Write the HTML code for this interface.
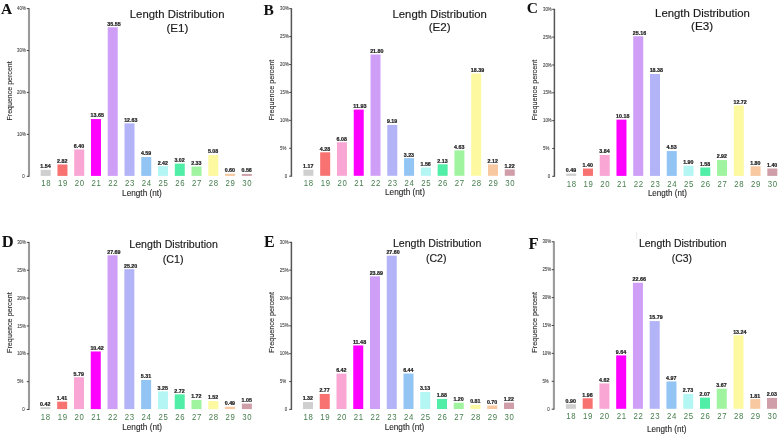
<!DOCTYPE html>
<html><head><meta charset="utf-8"><style>
html,body{margin:0;padding:0;background:#fff;}
body{width:784px;height:440px;overflow:hidden;}
svg{display:block;will-change:transform;}
text{font-family:"Liberation Sans",sans-serif;}
.val{font-size:5.2px;font-weight:bold;fill:#1e1e1e;stroke:#1e1e1e;stroke-width:0.22px;}
.xl{font-size:9.4px;fill:#467e4d;text-anchor:middle;letter-spacing:0.8px;}
.tk{font-size:5.2px;fill:#444;stroke:#444;stroke-width:0.1px;text-anchor:end;}
.let{font-family:"Liberation Serif",serif;font-weight:bold;font-size:15.5px;fill:#111;}
.ttl{fill:#1a1a1a;stroke:#1a1a1a;stroke-width:0.15px;}
.nt{font-size:8.2px;fill:#2a2a2a;stroke:#2a2a2a;stroke-width:0.12px;}
.fp{font-size:7.6px;fill:#2a2a2a;stroke:#2a2a2a;stroke-width:0.12px;}
</style></head><body>
<svg width="784" height="440" viewBox="0 0 784 440">
<rect width="784" height="440" fill="#fff"/>
<rect x="40.7" y="169.84" width="10" height="6.06" fill="#cfcfcf"/>
<text x="40.35" y="168.24" class="val" textLength="10.32" lengthAdjust="spacingAndGlyphs">1.54</text>
<text transform="translate(46.15,186.3) scale(0.83,1)" class="xl">18</text>
<rect x="57.46" y="164.48" width="10" height="11.42" fill="#f87272"/>
<text x="57.11" y="162.88" class="val" textLength="10.32" lengthAdjust="spacingAndGlyphs">2.82</text>
<text transform="translate(62.91,186.3) scale(0.83,1)" class="xl">19</text>
<rect x="74.22" y="149.47" width="10" height="26.43" fill="#f9a6d4"/>
<text x="73.87" y="147.87" class="val" textLength="10.32" lengthAdjust="spacingAndGlyphs">6.40</text>
<text transform="translate(79.67,186.3) scale(0.83,1)" class="xl">20</text>
<rect x="90.98" y="119.07" width="10" height="56.83" fill="#ff00ff"/>
<text x="90.63" y="117.47" class="val" textLength="13.27" lengthAdjust="spacingAndGlyphs">13.65</text>
<text transform="translate(96.43,186.3) scale(0.83,1)" class="xl">21</text>
<rect x="107.74" y="27.26" width="10" height="148.64" fill="#cf9ff8"/>
<text x="107.39" y="25.66" class="val" textLength="13.27" lengthAdjust="spacingAndGlyphs">35.55</text>
<text transform="translate(113.19,186.3) scale(0.83,1)" class="xl">22</text>
<rect x="124.5" y="123.35" width="10" height="52.55" fill="#b3b3f7"/>
<text x="124.15" y="121.75" class="val" textLength="13.27" lengthAdjust="spacingAndGlyphs">12.63</text>
<text transform="translate(129.95,186.3) scale(0.83,1)" class="xl">23</text>
<rect x="141.26" y="157.06" width="10" height="18.84" fill="#92c4f4"/>
<text x="140.91" y="155.46" class="val" textLength="10.32" lengthAdjust="spacingAndGlyphs">4.59</text>
<text transform="translate(146.71,186.3) scale(0.83,1)" class="xl">24</text>
<rect x="158.02" y="166.15" width="10" height="9.75" fill="#b3f6f3"/>
<text x="157.67" y="164.55" class="val" textLength="10.32" lengthAdjust="spacingAndGlyphs">2.42</text>
<text transform="translate(163.47,186.3) scale(0.83,1)" class="xl">25</text>
<rect x="174.78" y="163.64" width="10" height="12.26" fill="#50eea6"/>
<text x="174.43" y="162.04" class="val" textLength="10.32" lengthAdjust="spacingAndGlyphs">3.02</text>
<text transform="translate(180.23,186.3) scale(0.83,1)" class="xl">26</text>
<rect x="191.54" y="166.53" width="10" height="9.37" fill="#a0f4a0"/>
<text x="191.19" y="164.93" class="val" textLength="10.32" lengthAdjust="spacingAndGlyphs">2.33</text>
<text transform="translate(196.99,186.3) scale(0.83,1)" class="xl">27</text>
<rect x="208.3" y="155" width="10" height="20.9" fill="#fdf9a0"/>
<text x="207.95" y="153.4" class="val" textLength="10.32" lengthAdjust="spacingAndGlyphs">5.08</text>
<text transform="translate(213.75,186.3) scale(0.83,1)" class="xl">28</text>
<rect x="225.06" y="173.78" width="10" height="2.12" fill="#f8c8a0"/>
<text x="224.71" y="172.18" class="val" textLength="10.32" lengthAdjust="spacingAndGlyphs">0.60</text>
<text transform="translate(230.51,186.3) scale(0.83,1)" class="xl">29</text>
<rect x="241.82" y="173.95" width="10" height="1.95" fill="#cf9ea8"/>
<text x="241.47" y="172.35" class="val" textLength="10.32" lengthAdjust="spacingAndGlyphs">0.56</text>
<text transform="translate(247.27,186.3) scale(0.83,1)" class="xl">30</text>
<line x1="29" y1="8.1" x2="29" y2="176.8" stroke="#9a9a9a" stroke-width="2.1"/>
<line x1="26.8" y1="176.3" x2="29" y2="176.3" stroke="#444" stroke-width="1"/>
<text x="24.8" y="177.9" class="tk" textLength="2.43" lengthAdjust="spacingAndGlyphs">0</text>
<line x1="26.8" y1="134.38" x2="29" y2="134.38" stroke="#444" stroke-width="1"/>
<text x="17.1" y="135.97" class="tk" style="text-anchor:start" textLength="8.74" lengthAdjust="spacingAndGlyphs">10%</text>
<line x1="26.8" y1="92.45" x2="29" y2="92.45" stroke="#444" stroke-width="1"/>
<text x="17.1" y="94.05" class="tk" style="text-anchor:start" textLength="8.74" lengthAdjust="spacingAndGlyphs">20%</text>
<line x1="26.8" y1="50.52" x2="29" y2="50.52" stroke="#444" stroke-width="1"/>
<text x="17.1" y="52.12" class="tk" style="text-anchor:start" textLength="8.74" lengthAdjust="spacingAndGlyphs">30%</text>
<line x1="26.8" y1="8.6" x2="29" y2="8.6" stroke="#444" stroke-width="1"/>
<text x="17.1" y="10.2" class="tk" style="text-anchor:start" textLength="8.74" lengthAdjust="spacingAndGlyphs">40%</text>
<text x="1" y="14" class="let" style="font-size:15.5px">A</text>
<text x="129.8" y="18.4" class="ttl" style="font-size:11.3px" textLength="94.7" lengthAdjust="spacingAndGlyphs">Length Distribution</text>
<text x="166.4" y="31.8" class="ttl" style="font-size:10.8px" textLength="22" lengthAdjust="spacingAndGlyphs">(E1)</text>
<text x="122.1" y="195.8" class="nt" textLength="39.7" lengthAdjust="spacingAndGlyphs">Length (nt)</text>
<text transform="translate(11.7,120.5) rotate(-90)" class="fp" textLength="59.2" lengthAdjust="spacingAndGlyphs">Frequence percent</text>
<rect x="303.4" y="169.67" width="10" height="6.13" fill="#cfcfcf"/>
<text x="303.05" y="168.07" class="val" textLength="10.32" lengthAdjust="spacingAndGlyphs">1.17</text>
<text transform="translate(308.85,186.4) scale(0.83,1)" class="xl">18</text>
<rect x="320.18" y="152.3" width="10" height="23.5" fill="#f87272"/>
<text x="319.83" y="150.7" class="val" textLength="10.32" lengthAdjust="spacingAndGlyphs">4.28</text>
<text transform="translate(325.63,186.4) scale(0.83,1)" class="xl">19</text>
<rect x="336.96" y="142.25" width="10" height="33.55" fill="#f9a6d4"/>
<text x="336.61" y="140.65" class="val" textLength="10.32" lengthAdjust="spacingAndGlyphs">6.08</text>
<text transform="translate(342.41,186.4) scale(0.83,1)" class="xl">20</text>
<rect x="353.74" y="109.59" width="10" height="66.21" fill="#ff00ff"/>
<text x="353.39" y="107.99" class="val" textLength="13.27" lengthAdjust="spacingAndGlyphs">11.93</text>
<text transform="translate(359.19,186.4) scale(0.83,1)" class="xl">21</text>
<rect x="370.52" y="54.48" width="10" height="121.32" fill="#cf9ff8"/>
<text x="370.17" y="52.88" class="val" textLength="13.27" lengthAdjust="spacingAndGlyphs">21.80</text>
<text transform="translate(375.97,186.4) scale(0.83,1)" class="xl">22</text>
<rect x="387.3" y="124.89" width="10" height="50.91" fill="#b3b3f7"/>
<text x="386.95" y="123.29" class="val" textLength="10.32" lengthAdjust="spacingAndGlyphs">9.19</text>
<text transform="translate(392.75,186.4) scale(0.83,1)" class="xl">23</text>
<rect x="404.08" y="158.17" width="10" height="17.63" fill="#92c4f4"/>
<text x="403.73" y="156.57" class="val" textLength="10.32" lengthAdjust="spacingAndGlyphs">3.23</text>
<text transform="translate(409.53,186.4) scale(0.83,1)" class="xl">24</text>
<rect x="420.86" y="167.49" width="10" height="8.31" fill="#b3f6f3"/>
<text x="420.51" y="165.89" class="val" textLength="10.32" lengthAdjust="spacingAndGlyphs">1.56</text>
<text transform="translate(426.31,186.4) scale(0.83,1)" class="xl">25</text>
<rect x="437.64" y="164.31" width="10" height="11.49" fill="#50eea6"/>
<text x="437.29" y="162.71" class="val" textLength="10.32" lengthAdjust="spacingAndGlyphs">2.13</text>
<text transform="translate(443.09,186.4) scale(0.83,1)" class="xl">26</text>
<rect x="454.42" y="150.35" width="10" height="25.45" fill="#a0f4a0"/>
<text x="454.07" y="148.75" class="val" textLength="10.32" lengthAdjust="spacingAndGlyphs">4.63</text>
<text transform="translate(459.87,186.4) scale(0.83,1)" class="xl">27</text>
<rect x="471.2" y="73.52" width="10" height="102.28" fill="#fdf9a0"/>
<text x="470.85" y="71.92" class="val" textLength="13.27" lengthAdjust="spacingAndGlyphs">18.39</text>
<text transform="translate(476.65,186.4) scale(0.83,1)" class="xl">28</text>
<rect x="487.98" y="164.36" width="10" height="11.44" fill="#f8c8a0"/>
<text x="487.63" y="162.76" class="val" textLength="10.32" lengthAdjust="spacingAndGlyphs">2.12</text>
<text transform="translate(493.43,186.4) scale(0.83,1)" class="xl">29</text>
<rect x="504.76" y="169.39" width="10" height="6.41" fill="#cf9ea8"/>
<text x="504.41" y="167.79" class="val" textLength="10.32" lengthAdjust="spacingAndGlyphs">1.22</text>
<text transform="translate(510.21,186.4) scale(0.83,1)" class="xl">30</text>
<line x1="291.4" y1="8.2" x2="291.4" y2="176.7" stroke="#555555" stroke-width="1.5"/>
<line x1="289.2" y1="176.2" x2="291.4" y2="176.2" stroke="#444" stroke-width="1"/>
<text x="287.2" y="177.8" class="tk" textLength="2.43" lengthAdjust="spacingAndGlyphs">0</text>
<line x1="289.2" y1="148.28" x2="291.4" y2="148.28" stroke="#444" stroke-width="1"/>
<text x="280.1" y="149.88" class="tk" style="text-anchor:start" textLength="6.31" lengthAdjust="spacingAndGlyphs">5%</text>
<line x1="289.2" y1="120.37" x2="291.4" y2="120.37" stroke="#444" stroke-width="1"/>
<text x="280.1" y="121.97" class="tk" style="text-anchor:start" textLength="8.74" lengthAdjust="spacingAndGlyphs">10%</text>
<line x1="289.2" y1="92.45" x2="291.4" y2="92.45" stroke="#444" stroke-width="1"/>
<text x="280.1" y="94.05" class="tk" style="text-anchor:start" textLength="8.74" lengthAdjust="spacingAndGlyphs">15%</text>
<line x1="289.2" y1="64.53" x2="291.4" y2="64.53" stroke="#444" stroke-width="1"/>
<text x="280.1" y="66.13" class="tk" style="text-anchor:start" textLength="8.74" lengthAdjust="spacingAndGlyphs">20%</text>
<line x1="289.2" y1="36.62" x2="291.4" y2="36.62" stroke="#444" stroke-width="1"/>
<text x="280.1" y="38.22" class="tk" style="text-anchor:start" textLength="8.74" lengthAdjust="spacingAndGlyphs">25%</text>
<line x1="289.2" y1="8.7" x2="291.4" y2="8.7" stroke="#444" stroke-width="1"/>
<text x="280.1" y="10.3" class="tk" style="text-anchor:start" textLength="8.74" lengthAdjust="spacingAndGlyphs">30%</text>
<text x="263.6" y="14.6" class="let" style="font-size:15.5px">B</text>
<text x="392.5" y="17.9" class="ttl" style="font-size:11.3px" textLength="94.4" lengthAdjust="spacingAndGlyphs">Length Distribution</text>
<text x="428.7" y="31" class="ttl" style="font-size:10.8px" textLength="22" lengthAdjust="spacingAndGlyphs">(E2)</text>
<text x="385" y="195.3" class="nt" textLength="39.9" lengthAdjust="spacingAndGlyphs">Length (nt)</text>
<text transform="translate(274.1,120.3) rotate(-90)" class="fp" textLength="60.5" lengthAdjust="spacingAndGlyphs">Frequence percent</text>
<rect x="566.2" y="173.57" width="10" height="2.33" fill="#cfcfcf"/>
<text x="565.85" y="171.97" class="val" textLength="10.32" lengthAdjust="spacingAndGlyphs">0.49</text>
<text transform="translate(571.65,186.7) scale(0.83,1)" class="xl">18</text>
<rect x="582.96" y="168.51" width="10" height="7.39" fill="#f87272"/>
<text x="582.61" y="166.91" class="val" textLength="10.32" lengthAdjust="spacingAndGlyphs">1.40</text>
<text transform="translate(588.41,186.7) scale(0.83,1)" class="xl">19</text>
<rect x="599.72" y="154.92" width="10" height="20.98" fill="#f9a6d4"/>
<text x="599.37" y="153.32" class="val" textLength="10.32" lengthAdjust="spacingAndGlyphs">3.84</text>
<text transform="translate(605.17,186.7) scale(0.83,1)" class="xl">20</text>
<rect x="616.48" y="119.63" width="10" height="56.27" fill="#ff00ff"/>
<text x="616.13" y="118.03" class="val" textLength="13.27" lengthAdjust="spacingAndGlyphs">10.18</text>
<text transform="translate(621.93,186.7) scale(0.83,1)" class="xl">21</text>
<rect x="633.24" y="36.24" width="10" height="139.66" fill="#cf9ff8"/>
<text x="632.89" y="34.64" class="val" textLength="13.27" lengthAdjust="spacingAndGlyphs">25.16</text>
<text transform="translate(638.69,186.7) scale(0.83,1)" class="xl">22</text>
<rect x="650" y="73.98" width="10" height="101.92" fill="#b3b3f7"/>
<text x="649.65" y="72.38" class="val" textLength="13.27" lengthAdjust="spacingAndGlyphs">18.38</text>
<text transform="translate(655.45,186.7) scale(0.83,1)" class="xl">23</text>
<rect x="666.76" y="151.08" width="10" height="24.82" fill="#92c4f4"/>
<text x="666.41" y="149.48" class="val" textLength="10.32" lengthAdjust="spacingAndGlyphs">4.53</text>
<text transform="translate(672.21,186.7) scale(0.83,1)" class="xl">24</text>
<rect x="683.52" y="165.72" width="10" height="10.18" fill="#b3f6f3"/>
<text x="683.17" y="164.12" class="val" textLength="10.32" lengthAdjust="spacingAndGlyphs">1.90</text>
<text transform="translate(688.97,186.7) scale(0.83,1)" class="xl">25</text>
<rect x="700.28" y="167.5" width="10" height="8.4" fill="#50eea6"/>
<text x="699.93" y="165.9" class="val" textLength="10.32" lengthAdjust="spacingAndGlyphs">1.58</text>
<text transform="translate(705.73,186.7) scale(0.83,1)" class="xl">26</text>
<rect x="717.04" y="160.05" width="10" height="15.85" fill="#a0f4a0"/>
<text x="716.69" y="158.45" class="val" textLength="10.32" lengthAdjust="spacingAndGlyphs">2.92</text>
<text transform="translate(722.49,186.7) scale(0.83,1)" class="xl">27</text>
<rect x="733.8" y="105.49" width="10" height="70.41" fill="#fdf9a0"/>
<text x="733.45" y="103.89" class="val" textLength="13.27" lengthAdjust="spacingAndGlyphs">12.72</text>
<text transform="translate(739.25,186.7) scale(0.83,1)" class="xl">28</text>
<rect x="750.56" y="166.28" width="10" height="9.62" fill="#f8c8a0"/>
<text x="750.21" y="164.68" class="val" textLength="10.32" lengthAdjust="spacingAndGlyphs">1.80</text>
<text transform="translate(756.01,186.7) scale(0.83,1)" class="xl">29</text>
<rect x="767.32" y="168.51" width="10" height="7.39" fill="#cf9ea8"/>
<text x="766.97" y="166.91" class="val" textLength="10.32" lengthAdjust="spacingAndGlyphs">1.40</text>
<text transform="translate(772.77,186.7) scale(0.83,1)" class="xl">30</text>
<line x1="554.4" y1="8.8" x2="554.4" y2="176.8" stroke="#555555" stroke-width="1.5"/>
<line x1="552.2" y1="176.3" x2="554.4" y2="176.3" stroke="#444" stroke-width="1"/>
<text x="550.2" y="177.9" class="tk" textLength="2.43" lengthAdjust="spacingAndGlyphs">0</text>
<line x1="552.2" y1="148.47" x2="554.4" y2="148.47" stroke="#444" stroke-width="1"/>
<text x="543" y="150.07" class="tk" style="text-anchor:start" textLength="6.31" lengthAdjust="spacingAndGlyphs">5%</text>
<line x1="552.2" y1="120.63" x2="554.4" y2="120.63" stroke="#444" stroke-width="1"/>
<text x="543" y="122.23" class="tk" style="text-anchor:start" textLength="8.74" lengthAdjust="spacingAndGlyphs">10%</text>
<line x1="552.2" y1="92.8" x2="554.4" y2="92.8" stroke="#444" stroke-width="1"/>
<text x="543" y="94.4" class="tk" style="text-anchor:start" textLength="8.74" lengthAdjust="spacingAndGlyphs">15%</text>
<line x1="552.2" y1="64.97" x2="554.4" y2="64.97" stroke="#444" stroke-width="1"/>
<text x="543" y="66.57" class="tk" style="text-anchor:start" textLength="8.74" lengthAdjust="spacingAndGlyphs">20%</text>
<line x1="552.2" y1="37.13" x2="554.4" y2="37.13" stroke="#444" stroke-width="1"/>
<text x="543" y="38.73" class="tk" style="text-anchor:start" textLength="8.74" lengthAdjust="spacingAndGlyphs">25%</text>
<line x1="552.2" y1="9.3" x2="554.4" y2="9.3" stroke="#444" stroke-width="1"/>
<text x="543" y="10.9" class="tk" style="text-anchor:start" textLength="8.74" lengthAdjust="spacingAndGlyphs">30%</text>
<text x="526.8" y="13.3" class="let" style="font-size:15.5px">C</text>
<text x="655.1" y="17.2" class="ttl" style="font-size:11.3px" textLength="94.7" lengthAdjust="spacingAndGlyphs">Length Distribution</text>
<text x="691" y="29.5" class="ttl" style="font-size:10.8px" textLength="22.1" lengthAdjust="spacingAndGlyphs">(E3)</text>
<text x="647.9" y="196.4" class="nt" textLength="39" lengthAdjust="spacingAndGlyphs">Length (nt)</text>
<text transform="translate(536.8,120.3) rotate(-90)" class="fp" textLength="60.5" lengthAdjust="spacingAndGlyphs">Frequence percent</text>
<rect x="40.4" y="407.16" width="10" height="1.94" fill="#cfcfcf"/>
<text x="40.05" y="405.56" class="val" textLength="10.32" lengthAdjust="spacingAndGlyphs">0.42</text>
<text transform="translate(45.85,420) scale(0.83,1)" class="xl">18</text>
<rect x="57.19" y="401.65" width="10" height="7.45" fill="#f87272"/>
<text x="56.84" y="400.05" class="val" textLength="10.32" lengthAdjust="spacingAndGlyphs">1.41</text>
<text transform="translate(62.64,420) scale(0.83,1)" class="xl">19</text>
<rect x="73.98" y="377.25" width="10" height="31.85" fill="#f9a6d4"/>
<text x="73.63" y="375.65" class="val" textLength="10.32" lengthAdjust="spacingAndGlyphs">5.79</text>
<text transform="translate(79.43,420) scale(0.83,1)" class="xl">20</text>
<rect x="90.77" y="351.46" width="10" height="57.64" fill="#ff00ff"/>
<text x="90.42" y="349.86" class="val" textLength="13.27" lengthAdjust="spacingAndGlyphs">10.42</text>
<text transform="translate(96.22,420) scale(0.83,1)" class="xl">21</text>
<rect x="107.56" y="255.27" width="10" height="153.83" fill="#cf9ff8"/>
<text x="107.21" y="253.67" class="val" textLength="13.27" lengthAdjust="spacingAndGlyphs">27.69</text>
<text transform="translate(113.01,420) scale(0.83,1)" class="xl">22</text>
<rect x="124.35" y="269.14" width="10" height="139.96" fill="#b3b3f7"/>
<text x="124" y="267.54" class="val" textLength="13.27" lengthAdjust="spacingAndGlyphs">25.20</text>
<text transform="translate(129.8,420) scale(0.83,1)" class="xl">23</text>
<rect x="141.14" y="379.92" width="10" height="29.18" fill="#92c4f4"/>
<text x="140.79" y="378.32" class="val" textLength="10.32" lengthAdjust="spacingAndGlyphs">5.31</text>
<text transform="translate(146.59,420) scale(0.83,1)" class="xl">24</text>
<rect x="157.93" y="391.4" width="10" height="17.7" fill="#b3f6f3"/>
<text x="157.58" y="389.8" class="val" textLength="10.32" lengthAdjust="spacingAndGlyphs">3.25</text>
<text transform="translate(163.38,420) scale(0.83,1)" class="xl">25</text>
<rect x="174.72" y="394.35" width="10" height="14.75" fill="#50eea6"/>
<text x="174.37" y="392.75" class="val" textLength="10.32" lengthAdjust="spacingAndGlyphs">2.72</text>
<text transform="translate(180.17,420) scale(0.83,1)" class="xl">26</text>
<rect x="191.51" y="399.92" width="10" height="9.18" fill="#a0f4a0"/>
<text x="191.16" y="398.32" class="val" textLength="10.32" lengthAdjust="spacingAndGlyphs">1.72</text>
<text transform="translate(196.96,420) scale(0.83,1)" class="xl">27</text>
<rect x="208.3" y="401.03" width="10" height="8.07" fill="#fdf9a0"/>
<text x="207.95" y="399.43" class="val" textLength="10.32" lengthAdjust="spacingAndGlyphs">1.52</text>
<text transform="translate(213.75,420) scale(0.83,1)" class="xl">28</text>
<rect x="225.09" y="406.77" width="10" height="2.33" fill="#f8c8a0"/>
<text x="224.74" y="405.17" class="val" textLength="10.32" lengthAdjust="spacingAndGlyphs">0.49</text>
<text transform="translate(230.54,420) scale(0.83,1)" class="xl">29</text>
<rect x="241.88" y="403.65" width="10" height="5.45" fill="#cf9ea8"/>
<text x="241.53" y="402.05" class="val" textLength="10.32" lengthAdjust="spacingAndGlyphs">1.05</text>
<text transform="translate(247.33,420) scale(0.83,1)" class="xl">30</text>
<line x1="29" y1="241.9" x2="29" y2="410" stroke="#9a9a9a" stroke-width="2.1"/>
<line x1="26.8" y1="409.5" x2="29" y2="409.5" stroke="#444" stroke-width="1"/>
<text x="24.8" y="411.1" class="tk" textLength="2.43" lengthAdjust="spacingAndGlyphs">0</text>
<line x1="26.8" y1="381.65" x2="29" y2="381.65" stroke="#444" stroke-width="1"/>
<text x="17.2" y="383.25" class="tk" style="text-anchor:start" textLength="6.31" lengthAdjust="spacingAndGlyphs">5%</text>
<line x1="26.8" y1="353.8" x2="29" y2="353.8" stroke="#444" stroke-width="1"/>
<text x="17.2" y="355.4" class="tk" style="text-anchor:start" textLength="8.74" lengthAdjust="spacingAndGlyphs">10%</text>
<line x1="26.8" y1="325.95" x2="29" y2="325.95" stroke="#444" stroke-width="1"/>
<text x="17.2" y="327.55" class="tk" style="text-anchor:start" textLength="8.74" lengthAdjust="spacingAndGlyphs">15%</text>
<line x1="26.8" y1="298.1" x2="29" y2="298.1" stroke="#444" stroke-width="1"/>
<text x="17.2" y="299.7" class="tk" style="text-anchor:start" textLength="8.74" lengthAdjust="spacingAndGlyphs">20%</text>
<line x1="26.8" y1="270.25" x2="29" y2="270.25" stroke="#444" stroke-width="1"/>
<text x="17.2" y="271.85" class="tk" style="text-anchor:start" textLength="8.74" lengthAdjust="spacingAndGlyphs">25%</text>
<line x1="26.8" y1="242.4" x2="29" y2="242.4" stroke="#444" stroke-width="1"/>
<text x="17.2" y="244" class="tk" style="text-anchor:start" textLength="8.74" lengthAdjust="spacingAndGlyphs">30%</text>
<text x="1.7" y="246.6" class="let" style="font-size:16.5px">D</text>
<text x="129.3" y="248" class="ttl" style="font-size:10.6px" textLength="88.5" lengthAdjust="spacingAndGlyphs">Length Distribution</text>
<text x="162.7" y="263" class="ttl" style="font-size:10.4px" textLength="20.8" lengthAdjust="spacingAndGlyphs">(C1)</text>
<text x="122.2" y="430.4" class="nt" textLength="39.8" lengthAdjust="spacingAndGlyphs">Length (nt)</text>
<text transform="translate(11.7,353) rotate(-90)" class="fp" textLength="60.8" lengthAdjust="spacingAndGlyphs">Frequence percent</text>
<rect x="303" y="402.05" width="10" height="6.95" fill="#cfcfcf"/>
<text x="302.65" y="400.45" class="val" textLength="10.32" lengthAdjust="spacingAndGlyphs">1.32</text>
<text transform="translate(308.45,419.8) scale(0.83,1)" class="xl">18</text>
<rect x="319.75" y="393.97" width="10" height="15.03" fill="#f87272"/>
<text x="319.4" y="392.37" class="val" textLength="10.32" lengthAdjust="spacingAndGlyphs">2.77</text>
<text transform="translate(325.2,419.8) scale(0.83,1)" class="xl">19</text>
<rect x="336.5" y="373.64" width="10" height="35.36" fill="#f9a6d4"/>
<text x="336.15" y="372.04" class="val" textLength="10.32" lengthAdjust="spacingAndGlyphs">6.42</text>
<text transform="translate(341.95,419.8) scale(0.83,1)" class="xl">20</text>
<rect x="353.25" y="345.46" width="10" height="63.54" fill="#ff00ff"/>
<text x="352.9" y="343.86" class="val" textLength="13.27" lengthAdjust="spacingAndGlyphs">11.48</text>
<text transform="translate(358.7,419.8) scale(0.83,1)" class="xl">21</text>
<rect x="370" y="276.33" width="10" height="132.67" fill="#cf9ff8"/>
<text x="369.65" y="274.73" class="val" textLength="13.27" lengthAdjust="spacingAndGlyphs">23.89</text>
<text transform="translate(375.45,419.8) scale(0.83,1)" class="xl">22</text>
<rect x="386.75" y="255.67" width="10" height="153.33" fill="#b3b3f7"/>
<text x="386.4" y="254.07" class="val" textLength="13.27" lengthAdjust="spacingAndGlyphs">27.60</text>
<text transform="translate(392.2,419.8) scale(0.83,1)" class="xl">23</text>
<rect x="403.5" y="373.53" width="10" height="35.47" fill="#92c4f4"/>
<text x="403.15" y="371.93" class="val" textLength="10.32" lengthAdjust="spacingAndGlyphs">6.44</text>
<text transform="translate(408.95,419.8) scale(0.83,1)" class="xl">24</text>
<rect x="420.25" y="391.97" width="10" height="17.03" fill="#b3f6f3"/>
<text x="419.9" y="390.37" class="val" textLength="10.32" lengthAdjust="spacingAndGlyphs">3.13</text>
<text transform="translate(425.7,419.8) scale(0.83,1)" class="xl">25</text>
<rect x="437" y="398.93" width="10" height="10.07" fill="#50eea6"/>
<text x="436.65" y="397.33" class="val" textLength="10.32" lengthAdjust="spacingAndGlyphs">1.88</text>
<text transform="translate(442.45,419.8) scale(0.83,1)" class="xl">26</text>
<rect x="453.75" y="402.72" width="10" height="6.28" fill="#a0f4a0"/>
<text x="453.4" y="401.12" class="val" textLength="10.32" lengthAdjust="spacingAndGlyphs">1.20</text>
<text transform="translate(459.2,419.8) scale(0.83,1)" class="xl">27</text>
<rect x="470.5" y="404.89" width="10" height="4.11" fill="#fdf9a0"/>
<text x="470.15" y="403.29" class="val" textLength="10.32" lengthAdjust="spacingAndGlyphs">0.81</text>
<text transform="translate(475.95,419.8) scale(0.83,1)" class="xl">28</text>
<rect x="487.25" y="405.5" width="10" height="3.5" fill="#f8c8a0"/>
<text x="486.9" y="403.9" class="val" textLength="10.32" lengthAdjust="spacingAndGlyphs">0.70</text>
<text transform="translate(492.7,419.8) scale(0.83,1)" class="xl">29</text>
<rect x="504" y="402.6" width="10" height="6.4" fill="#cf9ea8"/>
<text x="503.65" y="401" class="val" textLength="10.32" lengthAdjust="spacingAndGlyphs">1.22</text>
<text transform="translate(509.45,419.8) scale(0.83,1)" class="xl">30</text>
<line x1="291.4" y1="241.8" x2="291.4" y2="409.9" stroke="#555555" stroke-width="1.5"/>
<line x1="289.2" y1="409.4" x2="291.4" y2="409.4" stroke="#444" stroke-width="1"/>
<text x="287.2" y="411" class="tk" textLength="2.43" lengthAdjust="spacingAndGlyphs">0</text>
<line x1="289.2" y1="381.55" x2="291.4" y2="381.55" stroke="#444" stroke-width="1"/>
<text x="279.8" y="383.15" class="tk" style="text-anchor:start" textLength="6.31" lengthAdjust="spacingAndGlyphs">5%</text>
<line x1="289.2" y1="353.7" x2="291.4" y2="353.7" stroke="#444" stroke-width="1"/>
<text x="279.8" y="355.3" class="tk" style="text-anchor:start" textLength="8.74" lengthAdjust="spacingAndGlyphs">10%</text>
<line x1="289.2" y1="325.85" x2="291.4" y2="325.85" stroke="#444" stroke-width="1"/>
<text x="279.8" y="327.45" class="tk" style="text-anchor:start" textLength="8.74" lengthAdjust="spacingAndGlyphs">15%</text>
<line x1="289.2" y1="298" x2="291.4" y2="298" stroke="#444" stroke-width="1"/>
<text x="279.8" y="299.6" class="tk" style="text-anchor:start" textLength="8.74" lengthAdjust="spacingAndGlyphs">20%</text>
<line x1="289.2" y1="270.15" x2="291.4" y2="270.15" stroke="#444" stroke-width="1"/>
<text x="279.8" y="271.75" class="tk" style="text-anchor:start" textLength="8.74" lengthAdjust="spacingAndGlyphs">25%</text>
<line x1="289.2" y1="242.3" x2="291.4" y2="242.3" stroke="#444" stroke-width="1"/>
<text x="279.8" y="243.9" class="tk" style="text-anchor:start" textLength="8.74" lengthAdjust="spacingAndGlyphs">30%</text>
<text x="264" y="246.7" class="let" style="font-size:16px">E</text>
<text x="392.9" y="247" class="ttl" style="font-size:10.6px" textLength="88.5" lengthAdjust="spacingAndGlyphs">Length Distribution</text>
<text x="425.9" y="262.4" class="ttl" style="font-size:10.4px" textLength="20.6" lengthAdjust="spacingAndGlyphs">(C2)</text>
<text x="384.7" y="430.4" class="nt" textLength="39.6" lengthAdjust="spacingAndGlyphs">Length (nt)</text>
<text transform="translate(273.8,352.7) rotate(-90)" class="fp" textLength="60.8" lengthAdjust="spacingAndGlyphs">Frequence percent</text>
<rect x="565.9" y="404.18" width="10" height="4.62" fill="#cfcfcf"/>
<text x="565.55" y="402.58" class="val" textLength="10.32" lengthAdjust="spacingAndGlyphs">0.90</text>
<text transform="translate(571.35,419.4) scale(0.83,1)" class="xl">18</text>
<rect x="582.66" y="398.26" width="10" height="10.54" fill="#f87272"/>
<text x="582.31" y="396.66" class="val" textLength="10.32" lengthAdjust="spacingAndGlyphs">1.96</text>
<text transform="translate(588.11,419.4) scale(0.83,1)" class="xl">19</text>
<rect x="599.42" y="383.42" width="10" height="25.38" fill="#f9a6d4"/>
<text x="599.07" y="381.82" class="val" textLength="10.32" lengthAdjust="spacingAndGlyphs">4.62</text>
<text transform="translate(604.87,419.4) scale(0.83,1)" class="xl">20</text>
<rect x="616.18" y="355.41" width="10" height="53.39" fill="#ff00ff"/>
<text x="615.83" y="353.81" class="val" textLength="10.32" lengthAdjust="spacingAndGlyphs">9.64</text>
<text transform="translate(621.63,419.4) scale(0.83,1)" class="xl">21</text>
<rect x="632.94" y="282.76" width="10" height="126.04" fill="#cf9ff8"/>
<text x="632.59" y="281.16" class="val" textLength="13.27" lengthAdjust="spacingAndGlyphs">22.66</text>
<text transform="translate(638.39,419.4) scale(0.83,1)" class="xl">22</text>
<rect x="649.7" y="321.09" width="10" height="87.71" fill="#b3b3f7"/>
<text x="649.35" y="319.49" class="val" textLength="13.27" lengthAdjust="spacingAndGlyphs">15.79</text>
<text transform="translate(655.15,419.4) scale(0.83,1)" class="xl">23</text>
<rect x="666.46" y="381.47" width="10" height="27.33" fill="#92c4f4"/>
<text x="666.11" y="379.87" class="val" textLength="10.32" lengthAdjust="spacingAndGlyphs">4.97</text>
<text transform="translate(671.91,419.4) scale(0.83,1)" class="xl">24</text>
<rect x="683.22" y="393.97" width="10" height="14.83" fill="#b3f6f3"/>
<text x="682.87" y="392.37" class="val" textLength="10.32" lengthAdjust="spacingAndGlyphs">2.73</text>
<text transform="translate(688.67,419.4) scale(0.83,1)" class="xl">25</text>
<rect x="699.98" y="397.65" width="10" height="11.15" fill="#50eea6"/>
<text x="699.63" y="396.05" class="val" textLength="10.32" lengthAdjust="spacingAndGlyphs">2.07</text>
<text transform="translate(705.43,419.4) scale(0.83,1)" class="xl">26</text>
<rect x="716.74" y="388.72" width="10" height="20.08" fill="#a0f4a0"/>
<text x="716.39" y="387.12" class="val" textLength="10.32" lengthAdjust="spacingAndGlyphs">3.67</text>
<text transform="translate(722.19,419.4) scale(0.83,1)" class="xl">27</text>
<rect x="733.5" y="335.32" width="10" height="73.48" fill="#fdf9a0"/>
<text x="733.15" y="333.72" class="val" textLength="13.27" lengthAdjust="spacingAndGlyphs">13.24</text>
<text transform="translate(738.95,419.4) scale(0.83,1)" class="xl">28</text>
<rect x="750.26" y="399.1" width="10" height="9.7" fill="#f8c8a0"/>
<text x="749.91" y="397.5" class="val" textLength="10.32" lengthAdjust="spacingAndGlyphs">1.81</text>
<text transform="translate(755.71,419.4) scale(0.83,1)" class="xl">29</text>
<rect x="767.02" y="397.87" width="10" height="10.93" fill="#cf9ea8"/>
<text x="766.67" y="396.27" class="val" textLength="10.32" lengthAdjust="spacingAndGlyphs">2.03</text>
<text transform="translate(772.47,419.4) scale(0.83,1)" class="xl">30</text>
<line x1="553.9" y1="241.3" x2="553.9" y2="409.7" stroke="#9a9a9a" stroke-width="2.1"/>
<line x1="551.7" y1="409.2" x2="553.9" y2="409.2" stroke="#444" stroke-width="1"/>
<text x="549.7" y="410.8" class="tk" textLength="2.43" lengthAdjust="spacingAndGlyphs">0</text>
<line x1="551.7" y1="381.3" x2="553.9" y2="381.3" stroke="#444" stroke-width="1"/>
<text x="542.4" y="382.9" class="tk" style="text-anchor:start" textLength="6.31" lengthAdjust="spacingAndGlyphs">5%</text>
<line x1="551.7" y1="353.4" x2="553.9" y2="353.4" stroke="#444" stroke-width="1"/>
<text x="542.4" y="355" class="tk" style="text-anchor:start" textLength="8.74" lengthAdjust="spacingAndGlyphs">10%</text>
<line x1="551.7" y1="325.5" x2="553.9" y2="325.5" stroke="#444" stroke-width="1"/>
<text x="542.4" y="327.1" class="tk" style="text-anchor:start" textLength="8.74" lengthAdjust="spacingAndGlyphs">15%</text>
<line x1="551.7" y1="297.6" x2="553.9" y2="297.6" stroke="#444" stroke-width="1"/>
<text x="542.4" y="299.2" class="tk" style="text-anchor:start" textLength="8.74" lengthAdjust="spacingAndGlyphs">20%</text>
<line x1="551.7" y1="269.7" x2="553.9" y2="269.7" stroke="#444" stroke-width="1"/>
<text x="542.4" y="271.3" class="tk" style="text-anchor:start" textLength="8.74" lengthAdjust="spacingAndGlyphs">25%</text>
<line x1="551.7" y1="241.8" x2="553.9" y2="241.8" stroke="#444" stroke-width="1"/>
<text x="542.4" y="243.4" class="tk" style="text-anchor:start" textLength="8.74" lengthAdjust="spacingAndGlyphs">30%</text>
<text x="528.6" y="248.7" class="let" style="font-size:16.5px">F</text>
<text x="638.9" y="247" class="ttl" style="font-size:10.6px" textLength="87.6" lengthAdjust="spacingAndGlyphs">Length Distribution</text>
<text x="671.8" y="262.1" class="ttl" style="font-size:10.4px" textLength="20.2" lengthAdjust="spacingAndGlyphs">(C3)</text>
<text x="647" y="431.6" class="nt" textLength="39.4" lengthAdjust="spacingAndGlyphs">Length (nt)</text>
<text transform="translate(536.6,352.7) rotate(-90)" class="fp" textLength="60.8" lengthAdjust="spacingAndGlyphs">Frequence percent</text>
<line x1="636.6" y1="232" x2="636.6" y2="238.7" stroke="#e6e6e6" stroke-width="0.8"/>
</svg>
</body></html>
